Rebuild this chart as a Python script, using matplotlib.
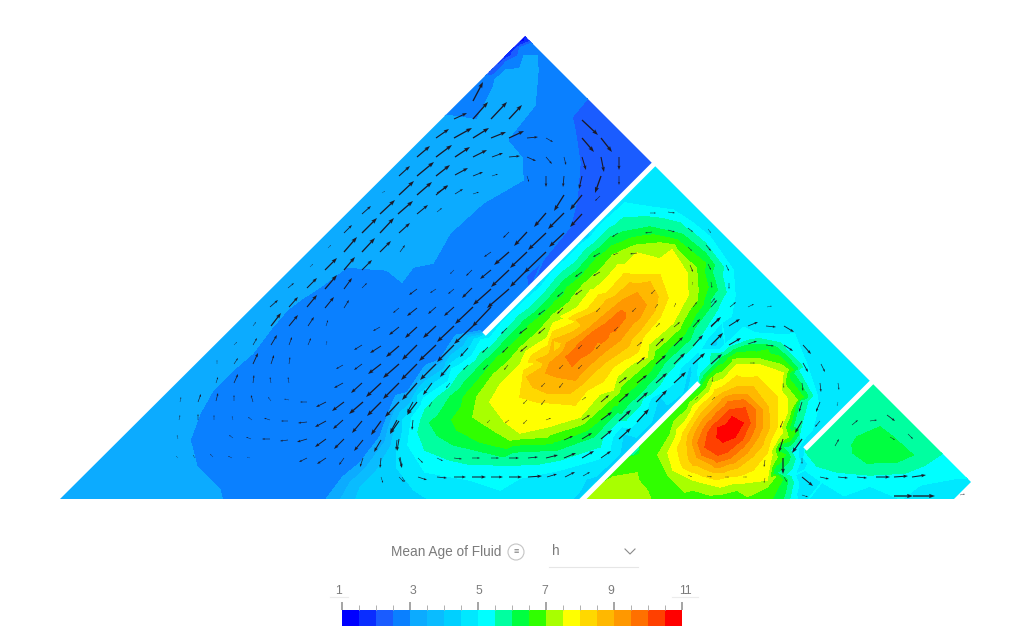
# Mean age of fluid in a baffled tank, contour bands with velocity arrows
import matplotlib
matplotlib.use("Agg")
import matplotlib.pyplot as plt
import matplotlib.tri as mtri
from matplotlib.colors import ListedColormap, BoundaryNorm
from matplotlib.colorbar import ColorbarBase
from matplotlib.patches import Polygon, Circle
import numpy as np

plt.rcParams['font.family'] = ['Liberation Sans', 'DejaVu Sans']

# tank outline and baffles, in the picture's x/y units
outline = [(60, 499), (525, 36), (971, 482), (954, 499)]
baffle_1 = [(659, 159), (640, 178), (620, 198), (605, 213), (590, 228), (575, 243), (560, 258), (547, 271),
            (533, 285), (522, 296), (510, 308), (497, 321), (484, 334)]
baffle_1_up = [2.3, 2.3, 2.3, 2.3, 2.3, 2.3, 2.3, 2.35, 2.45, 2.6, 2.7, 2.8, 2.9]
baffle_1_down = [4.8, 4.8, 4.8, 4.8, 4.8, 4.8, 4.8, 4.8, 4.8, 4.8, 4.8, 4.8, 4.9]
baffle_2 = [(572, 510), (585, 497), (598, 484), (610, 472), (625, 457), (640, 442), (655, 427), (670, 412),
            (685, 397), (699, 383)]
baffle_2_up = [4.4, 4.4, 4.3, 4.3, 4.3, 4.3, 4.3, 4.3, 4.4, 4.7]
baffle_2_down = [7.6, 7.3, 7.0, 6.7, 6.65, 6.6, 6.6, 6.55, 6.4, 6.2]
baffle_3 = [(877, 377), (863, 391), (850, 404), (838, 416), (827, 427), (816, 438), (805, 449)]
baffle_3_up = [4.8, 4.8, 4.7, 4.7, 4.7, 4.7, 4.7]
baffle_3_down = [5.75, 5.75, 5.75, 5.75, 5.75, 5.7, 5.6]

levels = np.arange(1, 11.5, 0.5)
band_colors = ['#0000ff', '#0a2dff', '#1a5cff', '#0a80ff', '#0cabff', '#0abcff', '#00d0ff', '#00e8ff',
               '#00ffff', '#00ffa0', '#00ff40', '#30ff00', '#a8ff00', '#ffff00', '#ffd800', '#ffb800',
               '#ff9800', '#ff7000', '#ff4000', '#ff0000']
scale_ticks = [1, 3, 5, 7, 9, 11]
scale_labels = ['1', '3', '5', '7', '9', '11']
scale_label_x = [339, 413, 479, 545, 611, 685]

# iso-lines, value: points
left_iso = {
    2.5: [(535, 42), (520, 48), (506, 62), (492, 76)],
    3.0: [(438, 114), (477, 120), (507, 140), (522, 158), (523, 180), (483, 203), (450, 233), (433, 263),
          (413, 267), (402, 282), (387, 270), (385, 248), (387, 242), (370, 250), (347, 267), (320, 287),
          (300, 300), (287, 310), (270, 330), (253, 353), (233, 370), (213, 390), (200, 413), (190, 440),
          (197, 467), (225, 510)],
}
apex_patch = [(537, 56), (538, 70), (535, 105), (525, 102), (510, 95), (493, 88), (495, 80), (506, 70), (524, 56)]
apex_inner = [(515, 82), (527, 72), (530, 90), (505, 85)]
dark_strip = [(592, 93), (572, 117), (575, 130), (580, 163), (577, 200), (570, 227), (543, 260), (533, 283)]

ramp_iso = {
    3.0: [(480, 331), (440, 360), (407, 393), (387, 417), (380, 437), (360, 463), (343, 477), (318, 510)],
    3.5: [(481, 333), (443, 362), (410, 395), (392, 418), (385, 442), (366, 468), (350, 483), (335, 510)],
    4.0: [(482, 334), (446, 363), (414, 396), (397, 420), (391, 446), (376, 472), (360, 488), (352, 510)],
    4.5: [(480, 338), (449, 365), (418, 396), (403, 420), (397, 450), (397, 468), (414, 490), (445, 510)],
}

peak_b = {
    5.0: [(481, 340), (452, 369), (424, 398), (412, 418), (408, 445), (425, 472), (470, 480), (520, 478),
          (560, 470), (595, 460), (630, 428), (665, 390), (700, 350), (722, 322), (735, 295), (733, 270),
          (710, 237), (693, 223), (673, 210), (650, 207), (625, 203), (590, 238), (540, 288), (490, 338)],
    5.5: [(648, 217), (680, 223), (705, 243), (722, 275), (717, 310), (703, 332), (672, 368), (640, 405),
          (600, 447), (560, 460), (500, 465), (450, 460), (425, 450), (418, 432), (425, 410), (450, 388),
          (490, 348), (530, 308), (575, 263), (610, 228)],
    6.0: [(650, 227), (677, 233), (712, 272), (710, 300), (695, 327), (665, 362), (635, 398), (593, 437),
          (557, 450), (513, 452), (467, 448), (437, 435), (430, 423), (450, 397), (480, 366), (513, 333),
          (557, 289), (593, 253), (623, 232)],
    6.5: [(653, 235), (677, 240), (705, 263), (708, 287), (690, 325), (660, 358), (625, 395), (587, 430),
          (553, 442), (513, 445), (480, 442), (457, 430), (452, 420), (470, 390), (497, 358), (530, 325),
          (567, 288), (597, 258), (623, 242)],
    7.0: [(660, 243), (677, 250), (697, 275), (697, 300), (680, 328), (645, 365), (612, 398), (580, 425),
          (547, 437), (510, 440), (493, 430), (473, 417), (477, 397), (493, 375), (520, 348), (553, 315),
          (583, 285), (613, 255), (637, 245)],
    7.5: [(672, 250), (687, 273), (688, 295), (673, 323), (647, 357), (613, 390), (580, 417), (547, 427),
          (520, 433), (505, 422), (490, 402), (500, 385), (520, 365), (547, 338), (577, 308), (607, 278),
          (637, 253)],
    8.0: [(660, 275), (668, 298), (660, 317), (643, 337), (613, 367), (587, 390), (553, 403), (537, 402),
          (520, 397), (523, 377), (537, 363), (557, 343), (577, 322), (607, 293), (637, 275)],
    8.5: [(650, 282), (658, 297), (655, 310), (640, 330), (613, 357), (593, 373), (570, 393), (547, 393),
          (533, 387), (527, 377), (537, 360), (553, 340), (577, 320), (607, 300), (630, 283)],
    9.0: [(637, 293), (646, 305), (640, 317), (620, 340), (603, 353), (587, 367), (575, 380), (557, 377),
          (546, 373), (550, 363), (567, 343), (587, 330), (607, 313), (623, 300)],
    9.5: [(625, 313), (625, 318), (610, 332), (597, 342), (580, 358), (572, 366), (566, 357), (580, 343),
          (593, 332), (607, 323)],
    9.8: [(600, 337), (586, 348), (574, 358), (612, 326), (620, 317)],
}

peak_c = {
    5.0: [(698, 372), (725, 345), (755, 333), (785, 335), (807, 365), (817, 395), (812, 430), (800, 445),
          (795, 475), (800, 510)],
    5.5: [(700, 377), (725, 352), (750, 340), (780, 343), (798, 370), (808, 400), (800, 430), (790, 450),
          (785, 475), (787, 510)],
    6.0: [(702, 380), (723, 357), (750, 345), (777, 348), (793, 373), (800, 400), (793, 427), (782, 447),
          (775, 473), (777, 510)],
    6.5: [(737, 353), (767, 350), (793, 370), (803, 397), (797, 430), (785, 455), (782, 480), (752, 510)],
    6.75: [(640, 455), (648, 472), (665, 492), (680, 498), (705, 499), (725, 497)],
    7.0: [(763, 360), (788, 370), (797, 400), (788, 437), (777, 457), (775, 477), (767, 487), (737, 490),
          (693, 490), (668, 475), (658, 455), (670, 435), (687, 410), (710, 380), (733, 360)],
    7.5: [(760, 365), (783, 373), (787, 413), (777, 440), (770, 463), (767, 480), (743, 483), (720, 487),
          (693, 480), (673, 470), (668, 453), (677, 430), (693, 407), (713, 383), (737, 365)],
    8.0: [(757, 377), (777, 397), (777, 427), (767, 453), (753, 470), (727, 477), (697, 473), (680, 460),
          (683, 433), (700, 407), (723, 387), (743, 378)],
    8.5: [(753, 387), (768, 407), (765, 437), (752, 457), (737, 468), (713, 472), (693, 465), (687, 443),
          (697, 420), (717, 397), (737, 387)],
    9.0: [(747, 395), (762, 410), (758, 437), (747, 453), (730, 463), (713, 465), (697, 457), (693, 440),
          (703, 420), (720, 403), (733, 395)],
    9.5: [(743, 400), (755, 410), (755, 427), (743, 447), (730, 458), (717, 462), (702, 455), (698, 443),
          (703, 430), (717, 413), (728, 402)],
    10.0: [(745, 408), (750, 423), (742, 440), (727, 452), (718, 455), (705, 447), (708, 433), (720, 420),
           (730, 410)],
    10.5: [(732, 417), (743, 423), (735, 437), (723, 442), (717, 437), (718, 428)],
    10.8: [(730, 428)],
}
bottom_wedge = {
    7.0: [(593, 490), (613, 477), (637, 473), (655, 510)],
    7.25: [(615, 497), (630, 490)],
}

peak_d = {
    5.0: [(805, 470), (822, 482), (870, 486), (920, 485), (958, 478), (978, 478)],
    5.5: [(808, 455), (817, 466), (837, 472), (870, 475), (905, 473), (925, 465), (940, 455), (950, 445)],
    5.75: [(881, 381), (905, 405), (930, 430), (915, 450), (850, 462), (820, 458)],
    6.0: [(857, 437), (880, 427), (893, 437), (913, 455), (897, 462), (867, 463), (853, 453), (852, 445)],
    6.2: [(878, 447)],
}

# plain samples for the flat stretches between the iso-lines
core_x = [300, 260, 350, 420, 500, 540, 550, 270, 560, 455, 470, 430, 400, 440, 380, 330, 230, 250, 300, 350, 478,
          465, 455, 425, 395, 372]
core_y = [440, 420, 350, 300, 240, 200, 130, 510, 62, 295, 300, 330, 340, 285, 310, 330, 440, 490, 480, 420, 74,
          87, 335, 365, 395, 425]
core_v = [2.75, 2.75, 2.75, 2.75, 2.75, 2.75, 2.75, 2.75, 2.75, 2.75, 2.75, 2.75, 2.75, 2.75, 2.75, 2.75, 2.75,
          2.75, 2.75, 2.75, 2.55, 2.75, 2.9, 2.9, 2.9, 2.9]
fill_x = [45, 150, 250, 350, 120, 100, 150, 200, 260, 330, 400, 470,
          620, 610, 600, 490, 505, 520, 525, 220, 660, 690, 720, 750, 770, 800, 840, 825, 810, 760, 700, 760,
          820, 664, 715, 690, 740, 660, 625, 802, 803, 847, 900, 985, 985, 960, 500, 540, 380, 530]
fill_y = [510, 402, 302, 202, 510, 490, 440, 370, 300, 230, 160, 85,
          125, 160, 190, 71, 56, 41, 25, 490, 185, 190, 225, 265, 300, 330, 380, 410, 440, 310, 205, 265,
          325, 166, 345, 368, 320, 398, 435, 485, 462, 505, 510, 485, 510, 505, 510, 510, 490, 510]
fill_v = [3.25, 3.25, 3.25, 3.25, 3.25, 3.25, 3.25, 3.25, 3.25, 3.25, 3.25, 2.75,
          2.25, 2.25, 2.25, 1.9, 1.5, 1.1, 1.0, 3.0, 4.8, 4.8, 4.8, 4.8, 4.8, 4.8, 4.8, 4.7,
          4.7, 4.8, 4.8, 4.8, 4.8, 4.8, 4.3, 4.4, 4.7, 4.4, 4.4, 4.7, 4.7, 4.8, 4.8, 4.8, 4.8, 4.8, 4.6, 4.6, 4.3, 4.6]

# velocity arrows: tail x, tail y, tip x, tip y
arrows_up = [
    (270,307,278,300),(289,307,298,297),(307,288,317,278),(325,289,337,275),(344,289,352,278),(288,288,294,283),
    (325,270,337,258),(344,270,355,257),(362,270,372,260),(344,252,357,237),(362,252,375,238),(380,252,391,241),
    (362,233,377,218),(380,233,394,218),(399,233,410,223),(344,233,352,225),(362,214,371,206),(380,214,395,200),
    (398,214,413,201),(417,214,428,205),(399,195,414,181),(417,195,432,182),(436,195,448,185),(399,176,410,166),
    (417,176,434,162),(436,176,450,165),(417,157,430,146),(436,157,452,145),(307,307,317,295),(325,308,334,297),
    (344,308,349,300),(362,288,367,283),(400,252,405,245),(328,248,331,245),(310,267,313,264),(382,193,385,191),
    (437,212,442,208),(473,101,483,82),(473,119,488,102),(491,119,507,102),(509,119,522,105),(454,119,467,113),
    (436,138,449,129),(454,138,472,128),(473,138,489,128),(491,138,506,132),(509,138,524,131),(527,138,538,137),
    (546,138,553,142),(455,157,470,147),(473,157,487,150),(492,157,503,153),(509,157,520,156),(527,157,536,161),
    (546,157,552,164),(564,157,566,165),(582,157,586,170),(601,157,604,172),(619,157,619,170),(582,138,594,152),
    (601,138,612,152),(582,120,598,135),(527,176,529,182),(546,176,546,187),(564,176,563,187),(582,176,579,189),
    (601,176,595,193),(619,176,619,185),(455,175,468,168),(473,176,483,172),(492,176,498,174),(437,193,448,186),
    (455,194,463,189),(473,194,479,192),
]
arrows_core = [
    (564,195,554,211),(582,195,570,210),(600,196,595,201),(546,213,534,227),(564,213,548,229),(582,214,570,227),
    (527,232,514,246),(546,233,528,250),(564,233,549,247),(509,232,503,238),(509,252,494,265),(527,252,510,268),
    (546,252,524,273),(491,252,484,257),(491,270,480,279),(509,270,491,287),(527,270,510,287),(472,270,466,276),
    (454,270,450,274),(472,288,462,298),(491,289,473,305),(509,289,487,308),(454,289,448,294),(436,289,430,293),
    (417,289,409,295),(473,307,455,324),(491,307,472,327),(454,307,444,316),(436,307,428,314),(473,326,454,344),
    (454,326,437,342),(436,326,423,338),(454,345,437,362),(436,345,419,361),(436,364,420,380),(271,326,281,313),
    (289,326,298,315),(308,326,314,317),(326,326,328,320),(253,326,256,322),(253,345,257,338),(271,345,277,335),
    (289,345,292,337),(308,345,311,338),(326,345,327,341),(234,345,237,342),(253,364,258,353),(271,364,274,355),
    (289,364,290,357),(234,364,238,358),(234,383,238,374),(253,383,254,375),(271,383,270,377),(289,383,288,377),
    (216,383,218,377),(216,401,218,393),(234,401,234,395),(253,402,251,395),(271,401,268,397),(289,400,284,399),
    (307,402,300,402),(214,420,214,415),(233,420,232,416),(252,420,248,417),(270,420,264,418),(288,421,281,421),
    (233,438,229,435),(251,439,246,437),(270,439,262,439),(288,440,280,441),(307,422,298,423),(326,421,315,427),
    (343,420,333,429),(362,421,352,433),(381,421,371,435),(399,421,390,434),(307,439,297,442),(326,439,315,447),
    (344,439,334,449),(363,440,354,451),(381,440,374,452),(399,439,397,451),(326,402,316,407),(344,402,332,411),
    (363,402,349,414),(381,402,367,416),(399,402,385,417),(417,402,407,415),(343,383,334,388),(362,383,351,393),
    (381,383,366,397),(399,383,383,399),(417,383,402,400),(343,365,336,369),(362,364,354,370),(381,364,368,374),
    (399,364,383,378),(417,364,401,380),(362,345,354,350),(381,346,370,353),(399,346,386,357),(417,345,402,360),
    (380,327,373,331),(399,327,389,335),(417,327,405,338),(399,308,393,313),(417,308,407,316),(326,458,317,464),
    (344,458,339,465),(307,458,299,462),(363,458,360,467),(381,458,380,468),(399,458,402,468),(381,477,383,483),
    (399,477,404,482),(217,364,217,360),(198,402,201,394),(180,402,181,397),(179,420,180,415),(198,420,198,414),
    (178,439,177,435),(178,458,176,456),(195,458,193,455),(213,457,210,454),(232,458,228,456),(250,458,247,457),
]
arrows_mid = [
    (507,328,501,334),(527,328,519,334),(545,310,538,315),(563,292,557,297),(582,290,575,295),(600,272,593,276),
    (618,233,612,237),(488,347,482,353),(508,347,502,353),(527,346,520,352),(545,328,538,334),(563,308,557,314),
    (468,348,460,357),(450,365,440,377),(468,365,463,370),(488,365,483,370),(508,365,504,370),(432,383,423,395),
    (450,383,446,388),(413,402,407,413),(432,402,429,407),(397,420,390,433),(413,420,412,430),(397,440,396,450),
    (400,457,402,467),(418,458,423,463),(402,477,405,482),(418,477,427,480),(437,477,447,478),(454,477,466,477),
    (472,477,486,477),(491,477,503,477),(509,477,522,477),(528,477,542,476),(547,477,557,474),(565,477,575,472),
    (583,476,590,472),(437,458,443,461),(454,458,462,459),(472,458,480,458),(491,458,499,458),(509,458,519,458),
    (528,458,538,457),(546,458,558,455),(564,458,576,453),(582,458,594,451),(601,458,611,451),(564,440,573,436),
    (582,439,592,433),(601,439,612,430),(619,439,631,428),(637,422,649,409),(619,421,631,410),(601,420,612,412),
    (582,420,590,415),(656,402,667,390),(637,402,648,392),(619,402,629,393),(601,402,609,395),(674,383,686,372),
    (656,383,667,373),(637,383,647,375),(619,383,627,377),(693,364,705,353),(674,364,685,353),(656,364,666,355),
    (637,364,645,357),(693,346,703,335),(674,346,683,337),(656,346,664,338),(637,346,642,342),(711,327,720,318),
    (693,327,700,319),(674,327,680,322),(656,327,660,323),(693,307,697,302),(674,307,676,303),(711,303,715,298),
    (692,285,693,282),(637,253,630,254),(600,253,593,257),(618,253,613,255),(582,272,575,277),(652,232,645,233),
    (545,400,541,405),(563,383,559,388),(582,365,578,369),(600,345,596,349),(618,327,614,331),(636,308,632,312),
    (655,290,651,294),(545,383,541,387),(563,365,559,369),(582,345,578,349),(600,308,596,312),(527,420,523,424),
    (509,420,505,423),(527,400,523,404),(490,420,487,423),(582,400,586,397),(546,420,551,418),(655,308,658,304),
]
arrows_right = [
    (650,213,656,213),(668,212,675,213),(688,228,693,232),(668,230,675,232),(708,229,711,233),(688,247,692,251),
    (706,245,711,251),(726,265,729,271),(708,264,711,270),(690,265,693,272),(729,283,729,289),(711,282,712,288),
    (730,307,736,302),(711,307,717,300),(748,307,754,304),(767,307,772,306),(711,326,721,317),(729,326,740,319),
    (748,326,758,322),(766,326,776,327),(784,326,794,332),(711,345,723,333),(729,345,741,338),(748,344,757,341),
    (766,345,774,346),(784,345,793,351),(803,345,811,354),(711,364,722,354),(803,363,808,372),(821,364,825,372),
    (802,383,803,391),(820,383,821,392),(838,383,839,390),(802,402,799,412),(820,402,816,412),(838,402,837,406),
    (802,421,795,433),(820,421,815,427),(783,421,780,428),(783,439,779,452),(802,439,792,453),(783,458,783,474),
    (802,458,802,464),(784,477,787,482),(802,477,813,486),(820,477,829,479),(838,477,848,478),(857,477,867,478),
    (876,477,890,477),(894,477,908,476),(912,477,926,475),(802,495,808,497),(894,496,913,496),(913,496,935,496),
    (960,495,965,494),(852,425,858,420),(870,421,877,420),(887,415,895,421),(908,434,913,439),(835,446,839,439),
    (890,437,895,440),(713,377,712,382),(783,383,784,388),(765,460,764,467),(707,476,712,477),(725,477,729,477),
    (743,477,747,477),(688,475,692,477),(765,478,764,483),(695,400,698,397),(712,400,715,397),(750,363,755,363),
]

fig = plt.figure(figsize=(10.24, 6.4), dpi=100)
ax = fig.add_axes([0, 0, 1, 1])
ax.set_xlim(0, 1024)
ax.set_ylim(640, 0)
ax.axis('off')

# collect all samples for the triangulation
pts_x, pts_y, pts_v = [], [], []


def add_iso(iso):
    for value, pts in iso.items():
        for px, py in pts:
            pts_x.append(px)
            pts_y.append(py)
            pts_v.append(value)


add_iso(left_iso)
add_iso({3.0: apex_patch, 3.25: apex_inner})
add_iso({2.5: dark_strip})
add_iso(ramp_iso)
add_iso(peak_b)
add_iso(peak_c)
add_iso(bottom_wedge)
add_iso(peak_d)
pts_x += fill_x + core_x
pts_y += fill_y + core_y
pts_v += fill_v + core_v

# a baffle is a jump in the field, so sample each side of it close to the line
for line, up, down in [(baffle_1, baffle_1_up, baffle_1_down),
                       (baffle_2, baffle_2_up, baffle_2_down),
                       (baffle_3, baffle_3_up, baffle_3_down)]:
    for (px, py), vu, vd in zip(line, up, down):
        pts_x += [px - 1.5, px + 1.5]
        pts_y += [py - 1.5, py + 1.5]
        pts_v += [vu, vd]

tri = mtri.Triangulation(np.array(pts_x, dtype=float), np.array(pts_y, dtype=float))
cs = ax.tricontourf(tri, np.array(pts_v), levels=levels, colors=band_colors)
clip = Polygon(outline, closed=True, transform=ax.transData, fc='none', ec='none')
ax.add_patch(clip)
cs.set_clip_path(clip)
cs.set_edgecolor('face')
cs.set_linewidth(0.3)

# baffles are white slots
for line in [baffle_1, baffle_2, baffle_3]:
    xs = [p[0] for p in line]
    ys = [p[1] for p in line]
    ax.plot(xs, ys, color='white', lw=3.6, solid_capstyle='butt', zorder=3)

# short arrows shrink as a whole (minshaft), so the weak flow stays thin
arr = np.array(arrows_up + arrows_core + arrows_mid + arrows_right, dtype=float)
ax.quiver(arr[:, 0], arr[:, 1], arr[:, 2] - arr[:, 0], arr[:, 3] - arr[:, 1],
          angles='xy', scale_units='xy', scale=1, width=0.0013, headwidth=3.2,
          headlength=4.5, headaxislength=4, minshaft=3, minlength=0, color='#1a1a2a', zorder=4)

# selector row under the tank
ax.text(391, 552, 'Mean Age of Fluid', fontsize=9.8, color='#7b7b7b', va='center', ha='left')
ax.add_patch(Circle((516, 552), 8, fc='white', ec='#c4c4c4', lw=0.8))
ax.text(516, 552, '≡', fontsize=6.5, color='#777777', va='center', ha='center')
ax.text(552, 551, 'h', fontsize=9.8, color='#7b7b7b', va='center', ha='left')
ax.plot([625, 630, 635], [549, 554, 549], color='#8a8a8a', lw=0.8)
ax.plot([549, 638], [567, 567], color='#e6e6e6', lw=0.8)
ax.plot([330, 348], [597, 597], color='#ececec', lw=0.8)
ax.plot([672, 698], [597, 597], color='#ececec', lw=0.8)
for lx, lab in zip(scale_label_x, scale_labels):
    ax.text(lx, 591, lab, fontsize=8.8, color='#7b7b7b', va='center', ha='center')

# colour scale
cax = fig.add_axes([342 / 1024, 1 - 626 / 640, 340 / 1024, 16 / 640])
cb = ColorbarBase(cax, cmap=ListedColormap(band_colors), norm=BoundaryNorm(levels, 20),
                  orientation='horizontal', ticks=scale_ticks, spacing='proportional')
cb.outline.set_visible(False)
cax.xaxis.set_ticks_position('top')
cax.set_xticks(levels, minor=True)
cax.tick_params(axis='x', which='major', length=6, width=1.1, color='#8c8c8c', labeltop=False)
cax.tick_params(axis='x', which='minor', length=3.5, width=0.7, color='#b0b0b0')

fig.savefig('out.png', dpi=100)
